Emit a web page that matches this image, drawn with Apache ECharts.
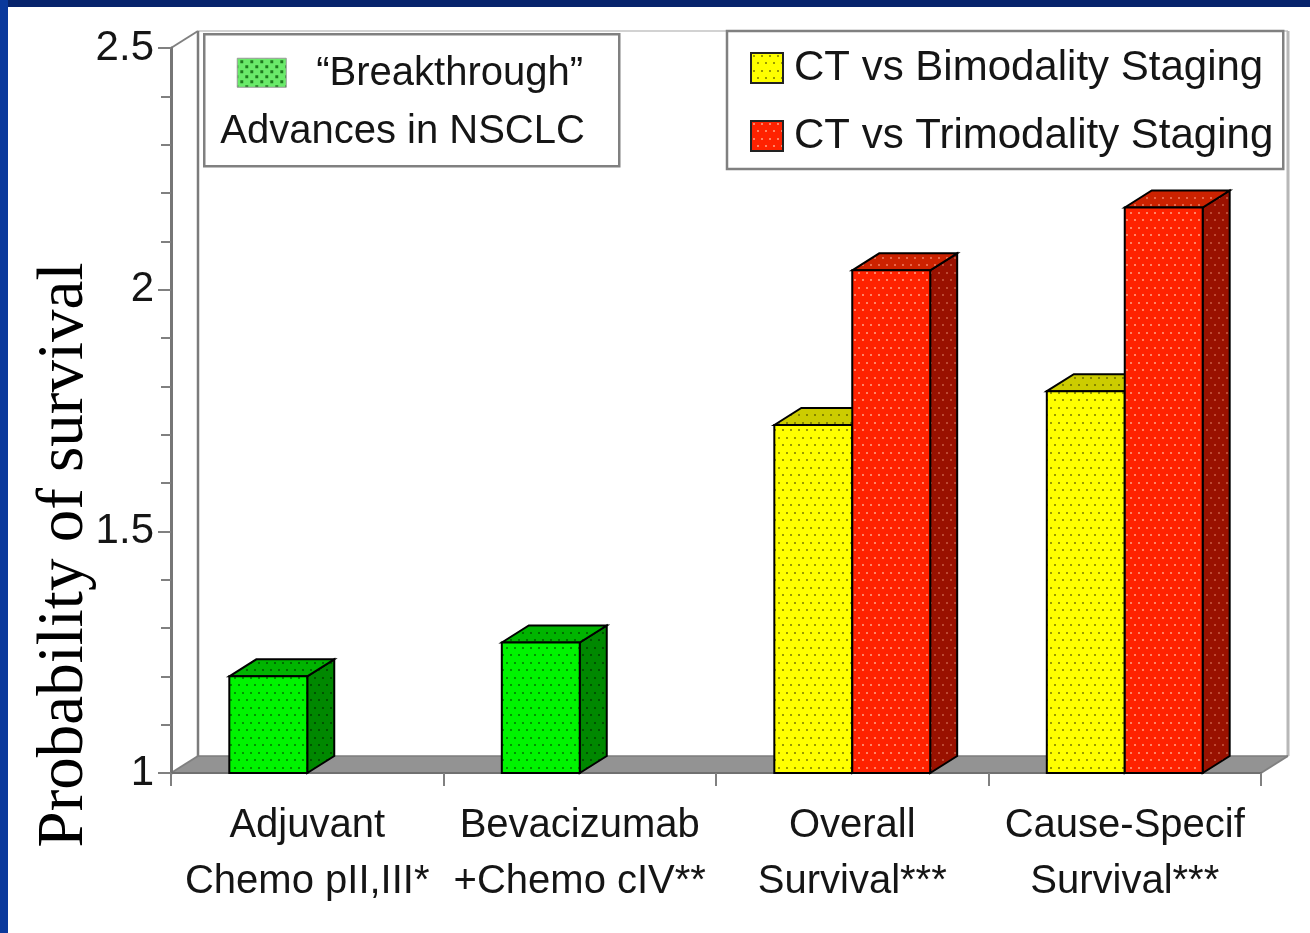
<!DOCTYPE html>
<html>
<head>
<meta charset="utf-8">
<script src="https://cdn.jsdelivr.net/npm/echarts@6/dist/echarts.min.js"></script>
<style>
  html, body { margin: 0; padding: 0; background: #ffffff; }
  #chart { width: 1310px; height: 933px; }
</style>
</head>
<body>
<div id="chart"></div>
<script>
// ---- data ----
const categories = [
  'Adjuvant\nChemo pII,III*',
  'Bevacizumab\n+Chemo cIV**',
  'Overall\nSurvival***',
  'Cause-Specif\nSurvival***'
];
const breakthroughValues = [1.2, 1.27, null, null];
const bimodalityValues = [null, null, 1.72, 1.79];
const trimodalityValues = [null, null, 2.04, 2.17];
const seriesNames = ['CT vs Bimodality Staging', 'CT vs Trimodality Staging'];
const breakthroughLegendLines = ['\u201CBreakthrough\u201D', 'Advances in NSCLC'];
const yAxisTitle = 'Probability of survival';
const yMin = 1, yMax = 2.5, yStep = 0.5;

// ---- styling helpers ----
const SANS = 'Liberation Sans, Arial, sans-serif';
const SERIF = 'Liberation Serif, Times New Roman, serif';
const DEPTH = [27, -17];        // 3D depth offset of walls and bars (px)
const BAR_RATIO = 0.286;        // bar width as share of one category band

function dotPattern(bg, dot, w, h, dots, size) {
  const c = document.createElement('canvas');
  c.width = w; c.height = h;
  const g = c.getContext('2d');
  g.fillStyle = bg; g.fillRect(0, 0, w, h);
  g.fillStyle = dot;
  dots.forEach(function (d) { g.fillRect(d[0], d[1], size, size); });
  return { image: c, repeat: 'repeat' };
}
const DOTS = [[2, 2], [10, 2], [6, 9], [14, 9]];
function faceSet(front, frontDot, top, topDot, side, sideDot) {
  return {
    front: dotPattern(front, frontDot, 16, 15, DOTS, 2),
    top: dotPattern(top, topDot, 16, 15, DOTS, 2),
    side: dotPattern(side, sideDot, 16, 15, DOTS, 2)
  };
}
const greenFaces = faceSet('#00f400', '#009400', '#00b400', '#006c00', '#008800', '#005200');
const yellowFaces = faceSet('#ffff00', '#9a9a00', '#cccc00', '#848400', '#999900', '#707000');
const redFaces = faceSet('#ff2200', '#ff8466', '#cc2200', '#e8684a', '#991100', '#bc4a34');
const legendGreen = dotPattern('#6aea6a', '#1f7a1f', 10, 10, [[1, 1], [6, 6]], 3);

function makeBarRenderer(slot, faces) {
  return function (params, api) {
    const v = api.value(1);
    if (isNaN(v)) return;
    const cat = api.value(0);
    const base = api.coord([cat, yMin]);
    const top = api.coord([cat, v]);
    const bw = api.size([1, 0])[0] * BAR_RATIO;
    const x0 = base[0] + (slot - 1) * bw;
    const x1 = x0 + bw;
    const yb = base[1], yt = top[1];
    const dx = DEPTH[0], dy = DEPTH[1];
    const edge = { stroke: '#000000', lineWidth: 2, lineJoin: 'miter' };
    return {
      type: 'group',
      children: [
        { type: 'polygon', shape: { points: [[x1, yt], [x1 + dx, yt + dy], [x1 + dx, yb + dy], [x1, yb]] },
          style: Object.assign({ fill: faces.side }, edge) },
        { type: 'polygon', shape: { points: [[x0, yt], [x0 + dx, yt + dy], [x1 + dx, yt + dy], [x1, yt]] },
          style: Object.assign({ fill: faces.top }, edge) },
        { type: 'rect', shape: { x: x0, y: yt, width: bw, height: yb - yt },
          style: Object.assign({ fill: faces.front }, edge) }
      ]
    };
  };
}

// floor and back walls of the plot box
function renderFrame(params) {
  const cs = params.coordSys;
  const L = cs.x, R = cs.x + cs.width, T = cs.y, B = cs.y + cs.height;
  const dx = DEPTH[0], dy = DEPTH[1];
  function seg(x1, y1, x2, y2, color, w) {
    return { type: 'line', shape: { x1: x1, y1: y1, x2: x2, y2: y2 }, style: { stroke: color, lineWidth: w } };
  }
  return {
    type: 'group',
    children: [
      { type: 'polygon', shape: { points: [[L, B], [L + dx, B + dy], [R + dx, B + dy], [R, B]] },
        style: { fill: '#939393' } },
      seg(L + dx, T + dy, R + dx, T + dy, '#d2d2d2', 2),
      seg(R + dx, T + dy, R + dx, B + dy, '#b8b8b8', 3),
      seg(L + dx, T + dy, L + dx, B + dy, '#7c7c7c', 2.5),
      seg(L + dx, B + dy, R + dx, B + dy, '#7c7c7c', 1.5),
      seg(L, T, L + dx, T + dy, '#808080', 2),
      seg(L, B, L + dx, B + dy, '#808080', 2),
      seg(R, B, R + dx, B + dy, '#808080', 2)
    ]
  };
}

function pairs(values) {
  return values.map(function (v, i) { return [i, v == null ? NaN : v]; });
}

const chart = echarts.init(document.getElementById('chart'));
chart.setOption({
  animation: false,
  backgroundColor: '#ffffff',
  grid: { left: 171, right: 49, top: 48, bottom: 160 },
  xAxis: {
    type: 'category',
    data: categories,
    z: 1,
    axisLine: { lineStyle: { color: '#707070', width: 2 } },
    axisTick: { show: true, length: 13, lineStyle: { color: '#808080', width: 2 } },
    axisLabel: { interval: 0, margin: 25, fontSize: 40, lineHeight: 56, fontFamily: SANS, color: '#151515' }
  },
  yAxis: {
    type: 'value',
    min: yMin, max: yMax, interval: yStep,
    z: 1,
    splitLine: { show: false },
    axisLine: { show: true, lineStyle: { color: '#767676', width: 3 } },
    axisTick: { show: true, length: 13, lineStyle: { color: '#808080', width: 2 } },
    minorTick: { show: true, splitNumber: 5, length: 10, lineStyle: { color: '#808080', width: 2 } },
    axisLabel: { margin: 17, fontSize: 42, fontFamily: SANS, color: '#151515' }
  },
  legend: {
    data: [
      { name: seriesNames[0], itemStyle: { color: yellowFaces.front, borderColor: '#222', borderWidth: 2 } },
      { name: seriesNames[1], itemStyle: { color: redFaces.front, borderColor: '#222', borderWidth: 2 } }
    ],
    orient: 'vertical',
    icon: 'rect',
    left: 727, top: 31,
    padding: [16, 10, 12, 23],
    itemWidth: 32, itemHeight: 30, itemGap: 26,
    borderColor: '#808080', borderWidth: 2.5,
    backgroundColor: '#ffffff',
    selectedMode: false,
    textStyle: { fontSize: 42, fontFamily: SANS, color: '#151515', padding: [0, 0, 0, 6] }
  },
  graphic: [
    { type: 'rect', left: 0, top: 0, shape: { width: 1310, height: 7 }, style: { fill: '#07246c' }, z: 20 },
    { type: 'rect', left: 0, top: 0, shape: { width: 8, height: 933 }, style: { fill: '#0a399c' }, z: 20 },
    {
      type: 'text', x: 65, y: 555, rotation: Math.PI / 2, z: 10,
      style: { text: yAxisTitle, font: '65px ' + SERIF, fill: '#000000', align: 'center', verticalAlign: 'middle' }
    },
    {
      type: 'group', left: 203, top: 33, z: 10,
      children: [
        { type: 'rect', shape: { x: 0, y: 0, width: 415, height: 132 },
          style: { fill: '#ffffff', stroke: '#808080', lineWidth: 2.5 } },
        { type: 'rect', shape: { x: 33, y: 24, width: 49, height: 29 },
          style: { fill: legendGreen, stroke: '#9a9a9a', lineWidth: 1 } },
        { type: 'text', x: 112, y: 40,
          style: { text: breakthroughLegendLines[0], font: '40px ' + SANS, fill: '#151515', verticalAlign: 'middle' } },
        { type: 'text', x: 16, y: 98,
          style: { text: breakthroughLegendLines[1], font: '40px ' + SANS, fill: '#151515', verticalAlign: 'middle' } }
      ]
    }
  ],
  series: [
    { type: 'custom', name: 'frame', z: 0, silent: true, data: [0], renderItem: renderFrame },
    { type: 'custom', name: 'Breakthrough', z: 2, data: pairs(breakthroughValues),
      encode: { x: 0, y: 1 }, renderItem: makeBarRenderer(0, greenFaces) },
    { type: 'custom', name: seriesNames[0], z: 2, data: pairs(bimodalityValues),
      itemStyle: { color: yellowFaces.front },
      encode: { x: 0, y: 1 }, renderItem: makeBarRenderer(0, yellowFaces) },
    { type: 'custom', name: seriesNames[1], z: 3, data: pairs(trimodalityValues),
      itemStyle: { color: redFaces.front },
      encode: { x: 0, y: 1 }, renderItem: makeBarRenderer(1, redFaces) }
  ]
});
</script>
</body>
</html>
